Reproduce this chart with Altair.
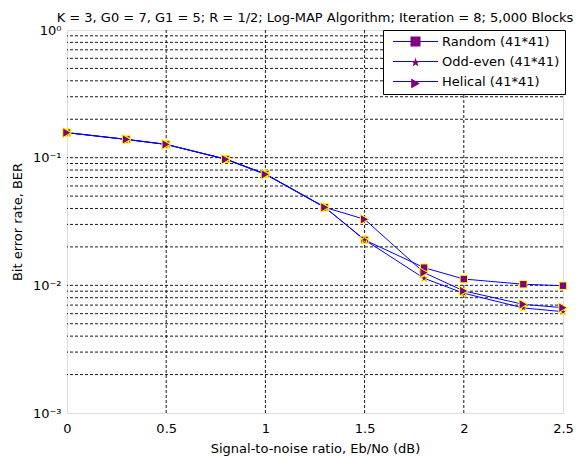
import altair as alt
import pandas as pd

# ---- data ----
snr = [0, 0.3, 0.5, 0.8, 1.0, 1.3, 1.5, 1.8, 2.0, 2.3, 2.5]
ber_random = [0.157, 0.139, 0.127, 0.0975, 0.0745, 0.0408, 0.0227, 0.01375, 0.0112, 0.0102, 0.00993]
ber_oddeven = [0.157, 0.139, 0.127, 0.0975, 0.0745, 0.0408, 0.0227, 0.01135, 0.00867, 0.00665, 0.00622]
ber_helical = [0.157, 0.139, 0.127, 0.0970, 0.0740, 0.0408, 0.0329, 0.01256, 0.00904, 0.0071, 0.00668]
series_names = ["Random (41*41)", "Odd-even (41*41)", "Helical (41*41)"]

title_text = "K = 3, G0 = 7, G1 = 5; R = 1/2; Log-MAP Algorithm; Iteration = 8; 5,000 Blocks"
x_title = "Signal-to-noise ratio, Eb/No (dB)"
y_title = "Bit error rate, BER"
x_ticks = [0, 0.5, 1, 1.5, 2, 2.5]
y_ticks = [0.001, 0.01, 0.1, 1]
x_grid = [0.5, 1, 1.5, 2]
y_grid = [0.002, 0.003, 0.004, 0.005, 0.006, 0.007, 0.008, 0.009,
          0.01, 0.02, 0.03, 0.04, 0.05, 0.06, 0.07, 0.08, 0.09,
          0.1, 0.2, 0.3, 0.4, 0.5, 0.6, 0.7, 0.8, 0.9]

STAR = ("M0,-1L0.225,-0.309L0.951,-0.309L0.363,0.118L0.588,0.809L0,0.382"
        "L-0.588,0.809L-0.363,0.118L-0.951,-0.309L-0.225,-0.309Z")
LINE_SYM = "M-4.5,0H4.5"
FONT = "DejaVu Sans"

rows = []
for name, vals in zip(series_names, [ber_random, ber_oddeven, ber_helical]):
    for x, y in zip(snr, vals):
        rows.append({"series": name, "series_m": name, "series_s": name, "snr": x, "ber": y})
df = pd.DataFrame(rows)

xscale = alt.Scale(domain=[0, 2.5], nice=False, zero=False)
yscale = alt.Scale(type="log", domain=[0.001, 1], nice=False)

x_axis = alt.Axis(values=x_ticks, format="~g", grid=False, ticks=False, domain=False,
                  labelFont=FONT, labelFontSize=13, labelColor="#000", labelPadding=9,
                  title=x_title, titleFont=FONT, titleFontSize=13, titleFontWeight="normal",
                  titleColor="#000", titlePadding=7, labelFlush=False)
y_axis = alt.Axis(values=y_ticks, grid=False, ticks=False, domain=False,
                  labelExpr="datum.value < 0.005 ? '10⁻³' : datum.value < 0.05 ? '10⁻²' : datum.value < 0.5 ? '10⁻¹' : '10⁰'",
                  labelFont=FONT, labelFontSize=13, labelColor="#000", labelPadding=6,
                  title=y_title, titleFont=FONT, titleFontSize=13, titleFontWeight="normal",
                  titleColor="#000", titlePadding=8, labelFlush=False)

hgrid = alt.Chart(pd.DataFrame({"v": y_grid})).mark_rule(
    color="#000000", strokeWidth=1, strokeDash=[3, 2], opacity=0.9
).encode(y=alt.Y("v:Q", scale=yscale, axis=y_axis))

vgrid = alt.Chart(pd.DataFrame({"v": x_grid})).mark_rule(
    color="#000000", strokeWidth=1, strokeDash=[3, 2], opacity=0.9
).encode(x=alt.X("v:Q", scale=xscale, axis=x_axis))

legend_common = dict(orient="none", legendX=316, legendY=0, title=None,
                     labelFont=FONT, labelFontSize=13, labelColor="#000",
                     labelExpr="datum.label + '\u00a0\u00a0'",
                     symbolSize=100, symbolStrokeWidth=1, symbolOffset=21, labelOffset=20,
                     rowPadding=6, padding=5, labelLimit=300)

lines = alt.Chart(df).mark_line(strokeWidth=1).encode(
    x=alt.X("snr:Q", scale=xscale, axis=x_axis),
    y=alt.Y("ber:Q", scale=yscale, axis=y_axis),
    color=alt.Color("series:N", sort=series_names,
                    scale=alt.Scale(range=["#0000ff"] * 3),
                    legend=alt.Legend(symbolType=LINE_SYM, symbolStrokeColor="#0000ff",
                                      fillColor="#ffffff", strokeColor="#000000",
                                      **legend_common)),
)

points = alt.Chart(df).mark_point(filled=True, fill="#800080", stroke="#ffff00",
                                  strokeWidth=1, opacity=1).encode(
    x=alt.X("snr:Q", scale=xscale, axis=x_axis),
    y=alt.Y("ber:Q", scale=yscale, axis=y_axis),
    shape=alt.Shape("series_m:N",
                    scale=alt.Scale(domain=series_names, range=["square", STAR, "triangle-right"]),
                    legend=alt.Legend(symbolFillColor="#800080", symbolStrokeColor="#ffff00",
                                      labelOpacity=0, **legend_common)),
    size=alt.Size("series_s:N", sort=series_names,
                  scale=alt.Scale(range=[55, 95, 105]), legend=None),
)

chart = alt.layer(hgrid, vgrid, lines, points).properties(
    width=496, height=383,
    title=alt.TitleParams(title_text, font=FONT, fontSize=13, fontWeight="normal",
                          color="#000", anchor="middle", offset=9, dy=10),
    autosize=alt.AutoSizeParams(type="none"),
    padding={"left": 59, "top": 22, "right": 17, "bottom": 44},
).configure_view(stroke="#000000", strokeWidth=1).configure(background="#ffffff")

chart.save("out.html", embed_options={"renderer": "svg", "actions": False})
